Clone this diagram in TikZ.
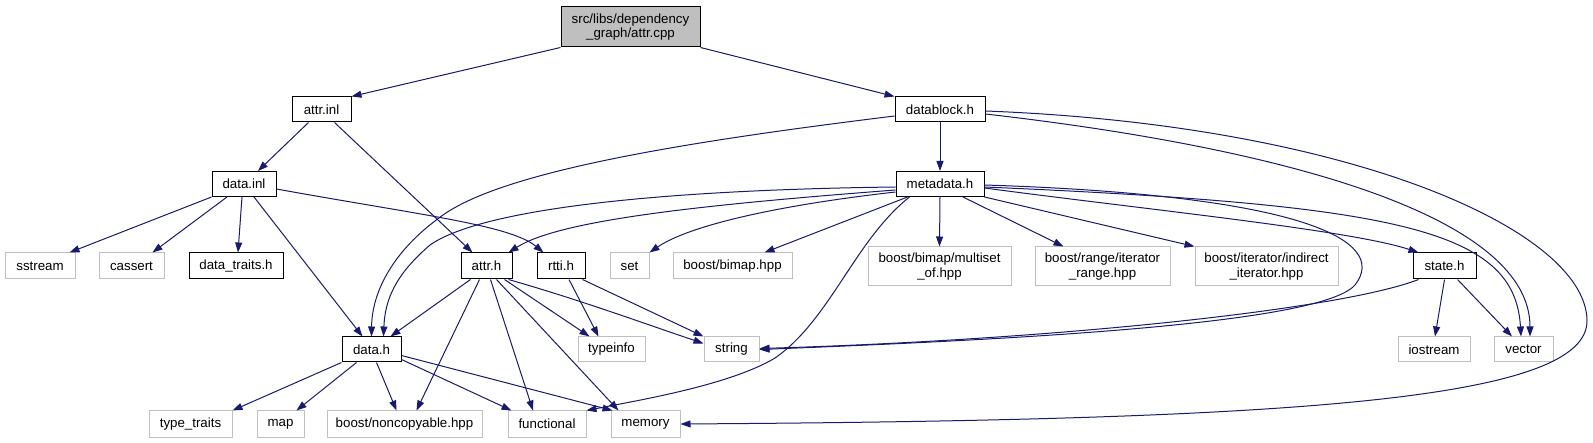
\documentclass[tikz,border=0pt]{standalone}
\usepackage{fontspec}
\setmainfont{Liberation Sans}
\usetikzlibrary{arrows.meta,calc}
\definecolor{edgeblue}{RGB}{25,25,112}
\definecolor{extgray}{RGB}{191,191,191}
\tikzset{
  box/.style={draw=black,line width=1pt,fill=white,inner sep=0pt,minimum height=25pt,
    font=\fontsize{13.3}{14.6}\selectfont,align=center},
  extbox/.style={box,draw=extgray},
  rootbox/.style={box,fill=extgray},
  edge/.style={draw=edgeblue,line width=1pt,-{Triangle[length=10pt,width=7pt]},fill=none},
}
\begin{document}
\begin{tikzpicture}[x=1pt,y=-1pt]
\useasboundingbox[fill=white] (0,0) rectangle (1593,443);
% rank 0
\node[rootbox,minimum width=139pt,minimum height=40pt] (attrcpp) at (630.5,27) {src/libs/dependency\\\_graph/attr.cpp};
% rank 1
\node[box,minimum width=59pt] (attrinl) at (321.5,109.5) {attr.inl};
\node[box,minimum width=90pt] (datablock) at (940,109.5) {datablock.h};
% rank 2
\node[box,minimum width=64pt] (datainl) at (244,184) {data.inl};
\node[box,minimum width=88pt] (metadata) at (940,184) {metadata.h};
% rank 3
\node[extbox,minimum width=70pt,minimum height=26pt] (sstream) at (40,266) {sstream};
\node[extbox,minimum width=65pt,minimum height=26pt] (cassert) at (131.5,266) {cassert};
\node[box,minimum width=94pt,minimum height=26pt] (datatraits) at (236,266) {data\_traits.h};
\node[box,minimum width=51pt,minimum height=26pt] (attrh) at (486.5,266) {attr.h};
\node[box,minimum width=48pt,minimum height=26pt] (rttih) at (561,266) {rtti.h};
\node[extbox,minimum width=39pt,minimum height=26pt] (set) at (629.5,266) {set};
\node[extbox,minimum width=119pt,minimum height=26pt] (bimap) at (732.5,266) {boost/bimap.hpp};
\node[extbox,minimum width=143pt,minimum height=39pt] (multiset) at (939.5,266.5) {boost/bimap/multiset\\\_of.hpp};
\node[extbox,minimum width=135pt,minimum height=39pt] (iterrange) at (1102.5,266.5) {boost/range/iterator\\\_range.hpp};
\node[extbox,minimum width=143pt,minimum height=39pt] (indirect) at (1266.5,266.5) {boost/iterator/indirect\\\_iterator.hpp};
\node[box,minimum width=63pt,minimum height=26pt] (state) at (1444.5,266) {state.h};
% rank 4
\node[box,minimum width=59pt] (datah) at (371.5,349.5) {data.h};
\node[extbox,minimum width=67pt] (typeinfo) at (611.5,349.5) {typeinfo};
\node[extbox,minimum width=55pt] (string) at (731.5,349.5) {string};
\node[extbox,minimum width=72pt] (iostream) at (1434,349.5) {iostream};
\node[extbox,minimum width=59pt] (vector) at (1523.5,349.5) {vector};
% rank 5
\node[extbox,minimum width=83pt,minimum height=26pt] (typetraits) at (190.5,424) {type\_traits};
\node[extbox,minimum width=47pt,minimum height=26pt] (map) at (280.5,424) {map};
\node[extbox,minimum width=155pt,minimum height=26pt] (noncopy) at (404.5,424) {boost/noncopyable.hpp};
\node[extbox,minimum width=78pt,minimum height=26pt] (functional) at (547,424) {functional};
\node[extbox,minimum width=69pt,minimum height=26pt] (memory) at (645.5,424) {memory};

% edges
\draw[edge] (attrcpp.south west) -- (attrinl.north east);
\draw[edge] (attrcpp.south east) -- (datablock.north west);
\draw[edge] ($(attrinl.south)+(-13,0)$) -- ($(datainl.north)+(14,0)$);
\draw[edge] ($(attrinl.south)+(13,0)$) -- ($(attrh.north)+(-14,0)$);
\draw[edge] (datainl.south west) -- ($(sstream.north east)+(-6,0)$);
\draw[edge] ($(datainl.south)+(-17,0)$) -- ($(cassert.north)+(21,0)$);
\draw[edge] ($(datainl.south)+(-2,0)$) -- ($(datatraits.north)+(2,0)$);
\draw[edge] ($(datainl.south)+(10,0)$) -- ($(datah.north)+(-9,0)$);
\draw[edge] ($(datainl.east)+(0,5)$) .. controls (420,215) and (510,225) .. ($(rttih.north west)+(7,0)$);
\draw[edge] (datablock.south) -- (metadata.north);
\draw[edge] ($(datablock.west)+(0,6.5)$) .. controls (700,140) and (500,170) .. (439,218) .. controls (395,250) and (372,290) .. (datah.north);
\draw[edge] ($(datablock.east)+(0,4.5)$) .. controls (1300,150) and (1530,220) .. ($(vector.north)+(6.5,0)$);
\draw[edge] ($(datablock.east)+(0,1.5)$) .. controls (1350,125) and (1585,230) .. (1587,320) .. controls (1589,400) and (1300,420) .. (memory.east);
\draw[edge] ($(metadata.west)+(0,3)$) .. controls (650,190) and (480,210) .. (430,245) .. controls (395,275) and (385,300) .. ($(datah.north)+(12,0)$);
\draw[edge] ($(metadata.west)+(0,6)$) .. controls (700,205) and (560,220) .. ($(attrh.north east)+(-4,0)$);
\draw[edge] ($(metadata.west)+(0,8)$) .. controls (780,205) and (690,225) .. (set.north east);
\draw[edge] ($(metadata.south west)+(12,0)$) -- ($(bimap.north)+(32,0)$);
\draw[edge] ($(metadata.south west)+(14,0)$) .. controls (855,240) and (830,320) .. (775,358) .. controls (730,385) and (640,400) .. (functional.north east);
\draw[edge] (metadata.south) -- (multiset.north);
\draw[edge] ($(metadata.south)+(23,0)$) -- ($(iterrange.north west)+(29,0)$);
\draw[edge] (metadata.south east) -- (indirect.north west);
\draw[edge] ($(metadata.east)+(0,4)$) .. controls (1150,210) and (1350,230) .. ($(state.north west)+(6,0)$);
\draw[edge] ($(metadata.east)+(0,3)$) .. controls (1400,205) and (1515,230) .. ($(vector.north)+(-2.5,0)$);
\draw[edge] ($(metadata.east)+(0,1)$) .. controls (1300,195) and (1390,240) .. (1355,285) .. controls (1320,325) and (1000,340) .. (string.east);
\draw[edge] ($(state.south west)+(6,0)$) .. controls (1340,310) and (1050,340) .. ($(string.east)+(0,-1)$);
\draw[edge] ($(state.south)+(0,0)$) -- ($(iostream.north)+(1,0)$);
\draw[edge] ($(state.south)+(13,0)$) -- ($(vector.north)+(-11.5,0)$);
\draw[edge] ($(attrh.south west)+(10,0)$) -- ($(datah.north east)+(-11,0)$);
\draw[edge] ($(attrh.south)+(-7,0)$) -- ($(noncopy.north)+(12,0)$);
\draw[edge] ($(attrh.south)+(4,0)$) -- ($(functional.north)+(-14,0)$);
\draw[edge] ($(attrh.south)+(10,0)$) -- ($(memory.north west)+(8,0)$);
\draw[edge] ($(attrh.south east)+(-8,0)$) -- ($(typeinfo.north)+(-22,0)$);
\draw[edge] ($(attrh.south east)+(-4,0)$) .. controls (580,300) and (640,322) .. ($(string.west)+(0,-6)$);
\draw[edge] ($(rttih.south)+(8,0)$) -- ($(typeinfo.north)+(-13,0)$);
\draw[edge] ($(rttih.south east)+(-3,0)$) -- (string.north west);
\draw[edge] (datah.south west) -- (typetraits.north east);
\draw[edge] ($(datah.south west)+(15,0)$) -- ($(map.north)+(16,0)$);
\draw[edge] ($(datah.south)+(5,0)$) -- ($(noncopy.north)+(-8,0)$);
\draw[edge] ($(datah.east)+(0,10)$) -- ($(functional.north west)+(4,0)$);
\draw[edge] ($(datah.east)+(0,6)$) -- ($(memory.north west)+(2,0)$);
\end{tikzpicture}
\end{document}
